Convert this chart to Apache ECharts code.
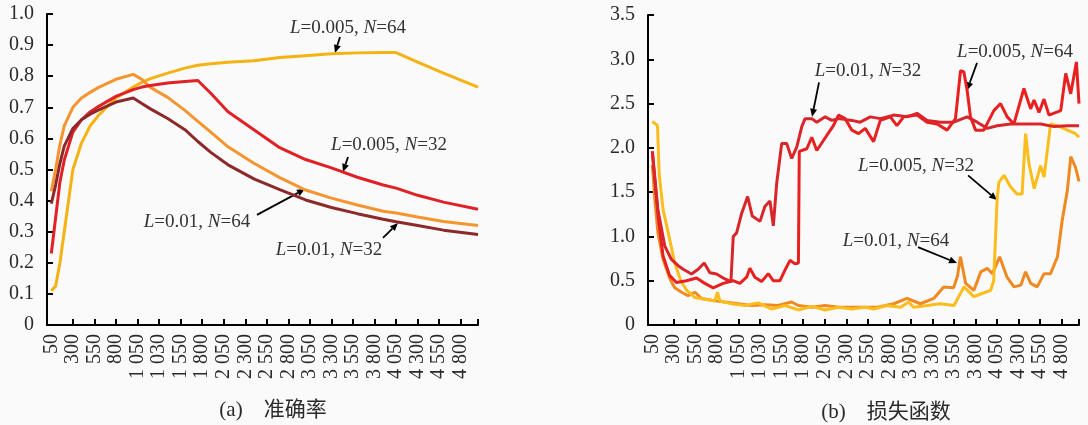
<!DOCTYPE html>
<html>
<head>
<meta charset="utf-8">
<script src="https://cdn.jsdelivr.net/npm/echarts@6/dist/echarts.min.js"></script>
<style>
html, body { margin: 0; padding: 0; background: #fafafa; }
#main { width: 1088px; height: 425px; }
</style>
</head>
<body>
<div id="main"></div>
<script>
// 横轴刻度 (原图第 6 个标签就是 "1 030")
const xTickValues = [50, 300, 550, 800, 1050, 1300, 1550, 1800, 2050, 2300, 2550, 2800, 3050, 3300, 3550, 3800, 4050, 4300, 4550, 4800]
const xTickLabels = ['50', '300', '550', '800', '1 050', '1 030', '1 550', '1 800', '2 050', '2 300', '2 550', '2 800', '3 050', '3 300', '3 550', '3 800', '4 050', '4 300', '4 550', '4 800']

// (a) 准确率
const accX = [50, 100, 150, 200, 300, 400, 500, 600, 800, 1000, 1100, 1200, 1400, 1600, 1750, 1900, 2100, 2400, 2700, 3000, 3300, 3600, 3900, 4050, 4300, 4600, 5000]
const accL005N64 = [0.11, 0.125, 0.20, 0.30, 0.50, 0.585, 0.64, 0.675, 0.73, 0.765, 0.78, 0.792, 0.81, 0.826, 0.835, 0.84, 0.845, 0.85, 0.86, 0.866, 0.872, 0.875, 0.876, 0.876, 0.845, 0.81, 0.765]
const accL005N32 = [0.23, 0.345, 0.46, 0.53, 0.62, 0.66, 0.685, 0.703, 0.735, 0.757, 0.765, 0.77, 0.778, 0.783, 0.786, 0.745, 0.686, 0.628, 0.57, 0.532, 0.505, 0.475, 0.45, 0.44, 0.417, 0.395, 0.372]
const accL001N64 = [0.43, 0.50, 0.58, 0.64, 0.70, 0.73, 0.748, 0.764, 0.79, 0.806, 0.79, 0.764, 0.732, 0.69, 0.655, 0.62, 0.573, 0.52, 0.474, 0.434, 0.408, 0.386, 0.366, 0.36, 0.347, 0.333, 0.32]
const accL001N32 = [0.39, 0.45, 0.52, 0.575, 0.632, 0.66, 0.678, 0.692, 0.717, 0.73, 0.712, 0.695, 0.664, 0.628, 0.59, 0.555, 0.515, 0.47, 0.435, 0.402, 0.378, 0.358, 0.34, 0.332, 0.32, 0.305, 0.291]

// (b) 损失函数, [迭代次数, 损失]
const lossL001N32 = [[50, 1.96], [115, 1.30], [195, 0.89], [272, 0.74], [350, 0.67], [408, 0.63], [505, 0.575], [582, 0.63], [652, 0.70], [718, 0.59], [795, 0.575], [892, 0.52], [962, 0.49], [989, 1.00], [1028, 1.04], [1086, 1.26], [1156, 1.45], [1210, 1.23], [1299, 1.17], [1357, 1.34], [1415, 1.40], [1454, 1.12], [1493, 1.60], [1551, 2.05], [1609, 2.05], [1667, 1.88], [1726, 2.01], [1784, 2.24], [1822, 2.33], [1900, 2.33], [1958, 2.29], [2055, 2.35], [2132, 2.31], [2210, 2.33], [2365, 2.31], [2462, 2.29], [2578, 2.35], [2695, 2.33], [2850, 2.37], [3005, 2.35], [3121, 2.39], [3237, 2.31], [3392, 2.29], [3547, 2.29], [3702, 2.35], [3819, 2.29], [3935, 2.22], [4051, 2.25], [4206, 2.27], [4400, 2.27], [4555, 2.27], [4710, 2.24], [4865, 2.25], [5000, 2.25]]
const lossL005N64 = [[50, 1.96], [120, 1.20], [175, 0.78], [250, 0.56], [330, 0.48], [446, 0.50], [563, 0.53], [659, 0.47], [756, 0.42], [872, 0.47], [988, 0.50], [1066, 0.47], [1144, 0.54], [1182, 0.64], [1240, 0.54], [1318, 0.49], [1395, 0.58], [1453, 0.50], [1531, 0.50], [1589, 0.62], [1647, 0.73], [1705, 0.69], [1745, 0.70], [1755, 1.96], [1842, 1.99], [1900, 2.12], [1958, 1.97], [2074, 2.14], [2151, 2.25], [2210, 2.37], [2288, 2.33], [2365, 2.20], [2443, 2.16], [2520, 2.22], [2540, 2.20], [2617, 2.07], [2695, 2.31], [2811, 2.35], [2888, 2.25], [2966, 2.35], [3121, 2.37], [3237, 2.29], [3354, 2.27], [3470, 2.20], [3567, 2.33], [3625, 2.87], [3664, 2.86], [3702, 2.65], [3741, 2.35], [3800, 2.20], [3896, 2.20], [4012, 2.42], [4090, 2.50], [4167, 2.35], [4245, 2.27], [4361, 2.67], [4439, 2.44], [4478, 2.54], [4536, 2.40], [4594, 2.55], [4652, 2.37], [4788, 2.42], [4846, 2.84], [4904, 2.61], [4970, 2.97], [5000, 2.50]]
const lossL005N32 = [[50, 2.30], [110, 2.25], [130, 1.70], [175, 1.30], [235, 1.04], [310, 0.70], [380, 0.50], [450, 0.39], [545, 0.31], [660, 0.29], [775, 0.27], [805, 0.37], [835, 0.27], [970, 0.24], [1125, 0.22], [1280, 0.25], [1435, 0.18], [1590, 0.22], [1745, 0.17], [1900, 0.21], [2055, 0.17], [2210, 0.20], [2365, 0.18], [2520, 0.20], [2620, 0.18], [2770, 0.22], [2930, 0.20], [3025, 0.26], [3080, 0.20], [3240, 0.22], [3390, 0.24], [3550, 0.22], [3665, 0.43], [3780, 0.32], [3860, 0.35], [3975, 0.39], [4010, 0.50], [4050, 1.41], [4070, 1.61], [4130, 1.69], [4205, 1.56], [4280, 1.48], [4340, 1.48], [4380, 2.16], [4420, 1.82], [4480, 1.54], [4555, 1.80], [4595, 1.67], [4670, 2.27], [4750, 2.25], [4865, 2.20], [4960, 2.16], [5000, 2.12]]
const lossL001N64 = [[50, 1.81], [80, 1.41], [115, 1.04], [175, 0.74], [255, 0.52], [310, 0.42], [390, 0.37], [465, 0.33], [545, 0.37], [620, 0.30], [740, 0.28], [890, 0.26], [1050, 0.24], [1200, 0.22], [1360, 0.23], [1510, 0.22], [1665, 0.26], [1745, 0.22], [1900, 0.20], [2055, 0.22], [2210, 0.20], [2365, 0.20], [2520, 0.20], [2660, 0.20], [2850, 0.24], [3005, 0.30], [3160, 0.24], [3315, 0.30], [3430, 0.43], [3545, 0.42], [3590, 0.55], [3625, 0.77], [3685, 0.47], [3780, 0.39], [3860, 0.60], [3935, 0.64], [3995, 0.58], [4080, 0.77], [4165, 0.54], [4245, 0.43], [4325, 0.45], [4380, 0.60], [4440, 0.47], [4515, 0.43], [4595, 0.58], [4670, 0.58], [4750, 0.77], [4805, 1.18], [4865, 1.52], [4905, 1.90], [4960, 1.78], [5000, 1.62]]

// 标注: 文字位置和箭头起止点都用数据坐标
const notes = [
  { g: 0, text: '{i|L}=0.005, {i|N}=64', at: [3492, 0.955], from: [3399, 0.926], to: [3341, 0.875] },
  { g: 0, text: '{i|L}=0.005, {i|N}=32', at: [3968, 0.579], from: [3492, 0.54], to: [3434, 0.492] },
  { g: 0, text: '{i|L}=0.01, {i|N}=64', at: [1740, 0.331], from: [2436, 0.354], to: [2993, 0.437] },
  { g: 0, text: '{i|L}=0.01, {i|N}=32', at: [3271, 0.241], from: [3898, 0.28], to: [4072, 0.328] },
  { g: 1, text: '{i|L}=0.01, {i|N}=32', at: [2552, 2.87], from: [1984, 2.74], to: [1903, 2.35] },
  { g: 1, text: '{i|L}=0.005, {i|N}=64', at: [4258, 3.08], from: [3817, 2.96], to: [3701, 2.65] },
  { g: 1, text: '{i|L}=0.005, {i|N}=32', at: [3109, 1.795], from: [3713, 1.69], to: [4049, 1.41] },
  { g: 1, text: '{i|L}=0.01, {i|N}=64', at: [2877, 0.948], from: [3132, 0.88], to: [3585, 0.70] }
]

const FONT = 'Liberation Serif, Times New Roman, serif'
const TXT = '#2a2a2a'

function xAxisOpt (gridIndex) {
  return {
    type: 'value',
    gridIndex: gridIndex,
    min: 0,
    max: 5000,
    axisLine: { lineStyle: { color: '#000', width: 2 } },
    axisTick: { inside: true, length: 6, customValues: xTickValues.slice(1).concat([5000]), lineStyle: { color: '#000', width: 2 } },
    axisLabel: {
      customValues: xTickValues,
      rotate: 90,
      margin: 9,
      fontFamily: FONT,
      fontSize: 20,
      color: TXT,
      formatter: (v) => xTickLabels[xTickValues.indexOf(v)]
    },
    splitLine: { show: false }
  }
}

function yAxisOpt (gridIndex, max, interval) {
  return {
    type: 'value',
    gridIndex: gridIndex,
    min: 0,
    max: max,
    interval: interval,
    axisLine: { show: true, lineStyle: { color: '#000', width: 2 } },
    axisTick: { show: true, inside: true, length: 6, lineStyle: { color: '#000', width: 2 } },
    axisLabel: {
      margin: 13,
      fontFamily: FONT,
      fontSize: 20,
      color: TXT,
      formatter: (v) => (v === 0 ? '0' : v.toFixed(1))
    },
    splitLine: { show: false }
  }
}

function lineSeries (gridIndex, name, data, color) {
  return {
    name: name,
    type: 'line',
    xAxisIndex: gridIndex,
    yAxisIndex: gridIndex,
    data: data,
    symbol: 'none',
    lineStyle: { width: 3, color: color },
    itemStyle: { color: color }
  }
}

const chart = echarts.init(document.getElementById('main'))
chart.setOption({
  backgroundColor: '#fafafa',
  animation: false,
  grid: [
    { left: 47, top: 14, width: 431, height: 311 },
    { left: 648, top: 15, width: 431, height: 310 }
  ],
  xAxis: [xAxisOpt(0), xAxisOpt(1)],
  yAxis: [yAxisOpt(0, 1, 0.1), yAxisOpt(1, 3.5, 0.5)],
  series: [
    lineSeries(0, 'L=0.005, N=64', accX.map((x, i) => [x, accL005N64[i]]), '#f5b214'),
    lineSeries(0, 'L=0.01, N=64', accX.map((x, i) => [x, accL001N64[i]]), '#f4952f'),
    lineSeries(0, 'L=0.005, N=32', accX.map((x, i) => [x, accL005N32[i]]), '#e02125'),
    lineSeries(0, 'L=0.01, N=32', accX.map((x, i) => [x, accL001N32[i]]), '#8c2a2b'),
    lineSeries(1, 'L=0.01, N=64', lossL001N64, '#ef8a22'),
    lineSeries(1, 'L=0.005, N=32', lossL005N32, '#fbbd1c'),
    lineSeries(1, 'L=0.005, N=64', lossL005N64, '#e8201f'),
    lineSeries(1, 'L=0.01, N=32', lossL001N32, '#d9262a')
  ]
})

// 标注文字和箭头 (换算成像素后画)
const gfx = []
notes.forEach((n) => {
  const t = chart.convertToPixel({ gridIndex: n.g }, n.at)
  const a = chart.convertToPixel({ gridIndex: n.g }, n.from)
  const b = chart.convertToPixel({ gridIndex: n.g }, n.to)
  gfx.push({
    type: 'text',
    x: t[0],
    y: t[1],
    style: {
      text: n.text,
      fontFamily: FONT,
      fontSize: 19,
      fill: '#333',
      align: 'center',
      verticalAlign: 'middle',
      rich: { i: { fontStyle: 'italic', fontFamily: FONT, fontSize: 19, fill: '#333' } }
    }
  })
  const dx = b[0] - a[0]
  const dy = b[1] - a[1]
  const len = Math.hypot(dx, dy)
  const ux = dx / len
  const uy = dy / len
  const hl = 8
  const hw = 3.5
  const bx = b[0] - ux * hl
  const by = b[1] - uy * hl
  gfx.push({ type: 'line', shape: { x1: a[0], y1: a[1], x2: bx, y2: by }, style: { stroke: '#000', lineWidth: 1.8 } })
  gfx.push({ type: 'polygon', shape: { points: [[b[0], b[1]], [bx - uy * hw, by + ux * hw], [bx + uy * hw, by - ux * hw]] }, style: { fill: '#000' } })
})
// 子图标题
gfx.push({ type: 'text', x: 273, y: 410, style: { text: '(a)\u3000准确率', fontFamily: 'Liberation Serif, Noto Sans CJK SC', fontSize: 21, fill: TXT, align: 'center', verticalAlign: 'middle' } })
gfx.push({ type: 'text', x: 886, y: 412, style: { text: '(b)\u3000损失函数', fontFamily: 'Liberation Serif, Noto Sans CJK SC', fontSize: 21, fill: TXT, align: 'center', verticalAlign: 'middle' } })
chart.setOption({ graphic: gfx })
</script>
</body>
</html>
